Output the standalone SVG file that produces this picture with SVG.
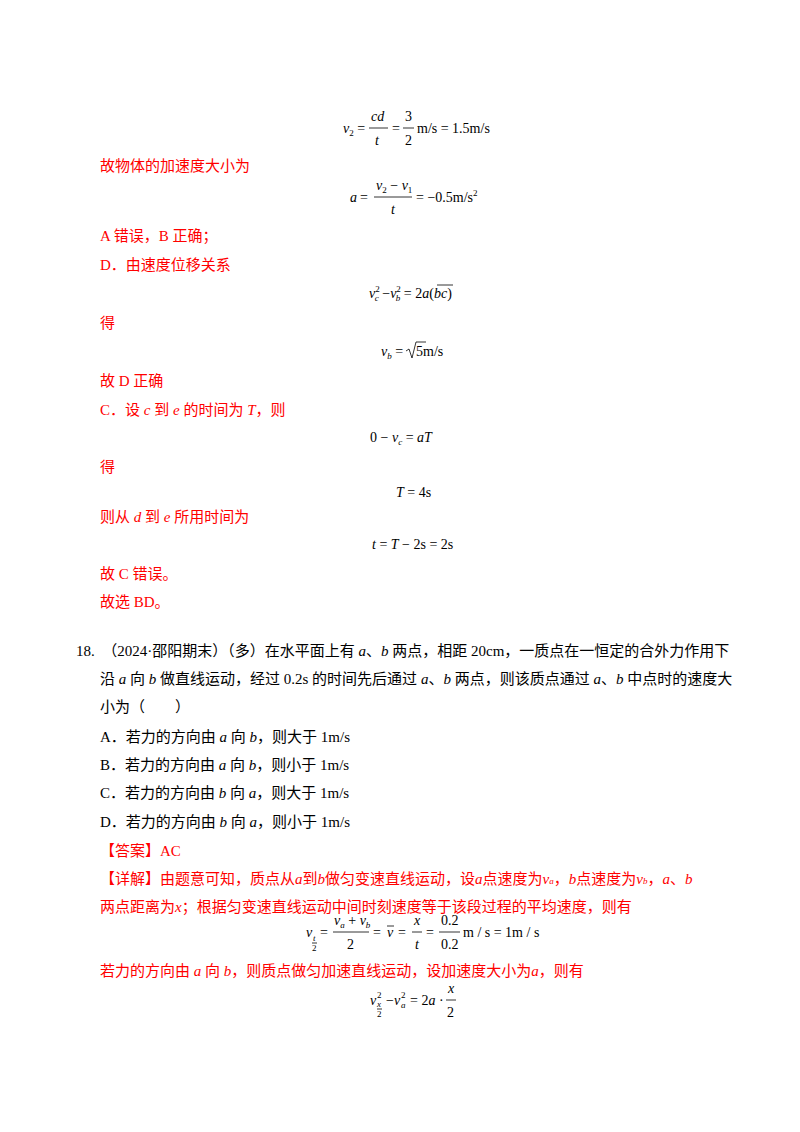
<svg xmlns="http://www.w3.org/2000/svg" width="800" height="1132" viewBox="0 0 800 1132">
<style>
text{font-family:"Liberation Serif","Noto Sans CJK SC",serif;font-size:15px}
.r{fill:#ff0000}
.k{fill:#000}
.m{font-family:"Liberation Serif",serif;font-size:14px;fill:#000}
.i{font-style:italic}
.s{font-size:9px}
line{stroke:#000;stroke-width:0.8}
</style>
<rect width="800" height="1132" fill="#fff"/>
<g id="f1" class="m">
<text x="343" y="133" class="m"><tspan class="i">v</tspan><tspan class="s" dy="3">2</tspan><tspan dy="-3"> =</tspan></text>
<text x="371" y="121" class="m i">cd</text><line x1="369" y1="128" x2="388" y2="128"/><text x="375" y="145" class="m i">t</text>
<text x="392" y="133" class="m">=</text>
<text x="405" y="121" class="m">3</text><line x1="403" y1="128" x2="414" y2="128"/><text x="405" y="145" class="m">2</text>
<text x="417" y="133" class="m">m/s = 1.5m/s</text>
</g>
<text x="100" y="171" class="r">故物体的加速度大小为</text>
<g id="f2">
<text x="350" y="202" class="m i">a</text><text x="360" y="202" class="m">=</text>
<text x="376" y="190" class="m"><tspan class="i">v</tspan><tspan class="s" dy="3">2</tspan><tspan dy="-3"> − </tspan><tspan class="i">v</tspan><tspan class="s" dy="3">1</tspan></text>
<line x1="374" y1="197" x2="412" y2="197"/><text x="391" y="214" class="m i">t</text>
<text x="416" y="202" class="m">= −0.5m/s<tspan class="s" dy="-6">2</tspan></text>
</g>
<text x="100" y="241" class="r">A 错误，B 正确；</text>
<text x="100" y="270" class="r">D．由速度位移关系</text>
<g id="f3">
<text x="369" y="298" class="m"><tspan class="i">v</tspan><tspan class="s" dx="0" dy="-6">2</tspan><tspan class="s i" dx="-5" dy="9">c</tspan><tspan dy="-3"> −</tspan><tspan class="i">v</tspan><tspan class="s" dy="-6">2</tspan><tspan class="s i" dx="-5" dy="9">b</tspan><tspan dy="-3"> = 2</tspan><tspan class="i">a</tspan>(<tspan class="i">bc</tspan>)</text>
<line x1="437" y1="285" x2="453" y2="285"/>
</g>
<text x="100" y="328" class="r">得</text>
<g id="f4">
<text x="381" y="356" class="m"><tspan class="i">v</tspan><tspan class="s i" dy="3">b</tspan><tspan dy="-3"> = </tspan></text>
<path d="M406 351 L409 349 L412 358 L416 342 L426 342" fill="none" stroke="#000" stroke-width="0.8"/>
<text x="416" y="356" class="m">5m/s</text>
</g>
<text x="100" y="386" class="r">故 D 正确</text>
<text x="100" y="415" class="r">C．设 <tspan class="i">c</tspan> 到 <tspan class="i">e</tspan> 的时间为 <tspan class="i">T</tspan>，则</text>
<text x="370" y="442" class="m">0 − <tspan class="i">v</tspan><tspan class="s i" dy="3">c</tspan><tspan dy="-3"> = </tspan><tspan class="i">aT</tspan></text>
<text x="100" y="472" class="r">得</text>
<text x="396" y="497" class="m"><tspan class="i">T</tspan> = 4s</text>
<text x="100" y="522" class="r">则从 <tspan class="i">d</tspan> 到 <tspan class="i">e</tspan> 所用时间为</text>
<text x="372" y="549" class="m"><tspan class="i">t</tspan> = <tspan class="i">T</tspan> − 2s = 2s</text>
<text x="100" y="579" class="r">故 C 错误。</text>
<text x="100" y="607" class="r">故选 BD。</text>
<text x="76" y="656" class="k">18.　（2024·邵阳期末）（多）在水平面上有 <tspan class="i">a</tspan>、<tspan class="i">b</tspan> 两点，相距 20cm，一质点在一恒定的合外力作用下</text>
<text x="100" y="684" class="k">沿 <tspan class="i">a</tspan> 向 <tspan class="i">b</tspan> 做直线运动，经过 0.2s 的时间先后通过 <tspan class="i">a</tspan>、<tspan class="i">b</tspan> 两点，则该质点通过 <tspan class="i">a</tspan>、<tspan class="i">b</tspan> 中点时的速度大</text>
<text x="100" y="712" class="k">小为（　　）</text>
<text x="100" y="742" class="k">A．若力的方向由 <tspan class="i">a</tspan> 向 <tspan class="i">b</tspan>，则大于 1m/s</text>
<text x="100" y="770" class="k">B．若力的方向由 <tspan class="i">a</tspan> 向 <tspan class="i">b</tspan>，则小于 1m/s</text>
<text x="100" y="798" class="k">C．若力的方向由 <tspan class="i">b</tspan> 向 <tspan class="i">a</tspan>，则大于 1m/s</text>
<text x="100" y="827" class="k">D．若力的方向由 <tspan class="i">b</tspan> 向 <tspan class="i">a</tspan>，则小于 1m/s</text>
<text x="100" y="856" class="r">【答案】AC</text>
<text x="100" y="884" class="r">【详解】由题意可知，质点从<tspan class="i">a</tspan>到<tspan class="i">b</tspan>做匀变速直线运动，设<tspan class="i">a</tspan>点速度为<tspan class="i">v</tspan><tspan class="s i">a</tspan>，<tspan class="i">b</tspan>点速度为<tspan class="i">v</tspan><tspan class="s i">b</tspan>，<tspan class="i">a</tspan>、<tspan class="i">b</tspan></text>
<text x="100" y="912" class="r">两点距离为<tspan class="i">x</tspan>；根据匀变速直线运动中间时刻速度等于该段过程的平均速度，则有</text>
<g id="f5" transform="translate(0,4)">
<text x="306" y="933" class="m i">v</text><text x="313" y="937" class="s i">t</text><line x1="312" y1="939" x2="317" y2="939"/><text x="312" y="947" class="s">2</text>
<text x="320" y="933" class="m">=</text>
<text x="334" y="921" class="m"><tspan class="i">v</tspan><tspan class="s i" dy="3">a</tspan><tspan dy="-3"> + </tspan><tspan class="i">v</tspan><tspan class="s i" dy="3">b</tspan></text>
<line x1="333" y1="928" x2="369" y2="928"/><text x="347" y="945" class="m">2</text>
<text x="373" y="933" class="m">=</text><text x="387" y="933" class="m i">v</text><line x1="387" y1="922" x2="394" y2="922"/>
<text x="398" y="933" class="m">=</text>
<text x="414" y="921" class="m i">x</text><line x1="412" y1="928" x2="422" y2="928"/><text x="415" y="945" class="m i">t</text>
<text x="426" y="933" class="m">=</text>
<text x="441" y="921" class="m">0.2</text><line x1="439" y1="928" x2="460" y2="928"/><text x="441" y="945" class="m">0.2</text>
<text x="463" y="933" class="m">m / s = 1m / s</text>
</g>
<text x="100" y="976" class="r">若力的方向由 <tspan class="i">a</tspan> 向 <tspan class="i">b</tspan>，则质点做匀加速直线运动，设加速度大小为<tspan class="i">a</tspan>，则有</text>
<g id="f6">
<text x="370" y="1005" class="m i">v</text><text x="377" y="998" class="s">2</text><text x="377" y="1007" class="s i">x</text><line x1="377" y1="1009" x2="382" y2="1009"/><text x="377" y="1017" class="s">2</text>
<text x="386" y="1005" class="m">−<tspan class="i">v</tspan></text><text x="401" y="998" class="s">2</text><text x="401" y="1008" class="s i">a</text>
<text x="410" y="1005" class="m">= 2<tspan class="i">a</tspan> ·</text>
<text x="448" y="993" class="m i">x</text><line x1="446" y1="1000" x2="456" y2="1000"/><text x="447" y="1017" class="m">2</text>
</g>
</svg>
